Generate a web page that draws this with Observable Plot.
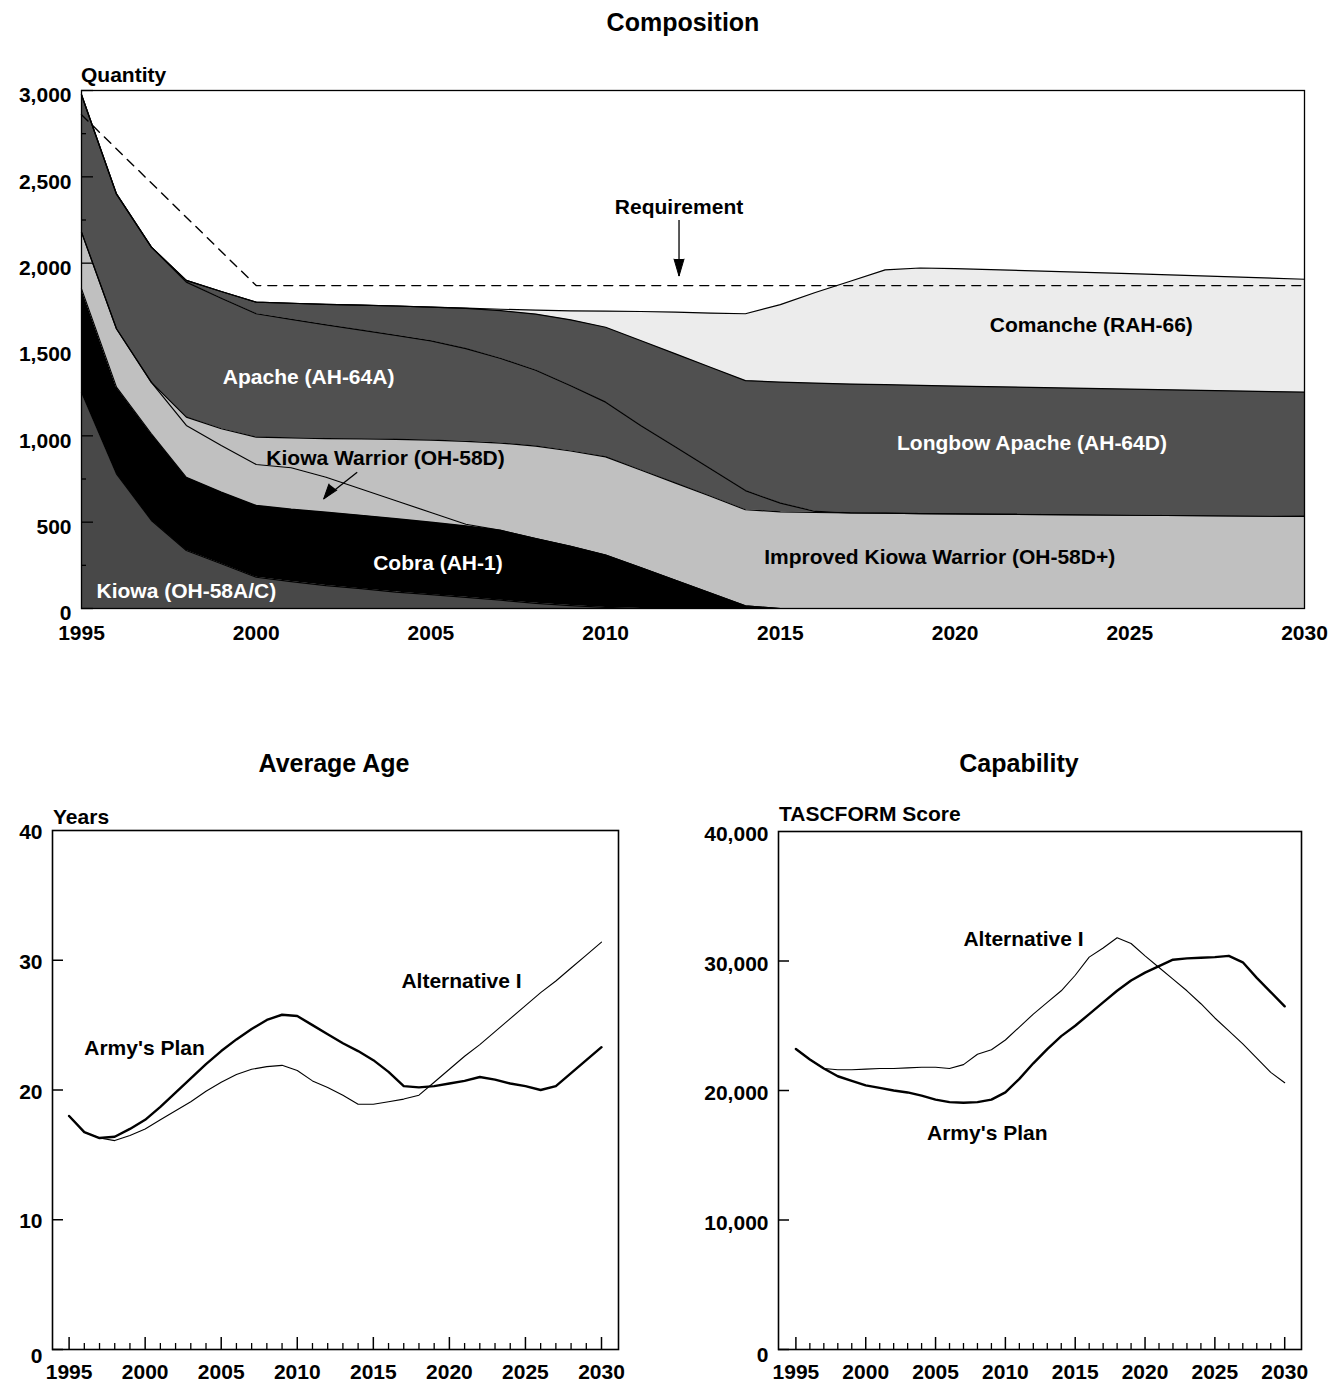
<!DOCTYPE html>
<html>
<head>
<meta charset="utf-8">
<script src="https://cdn.jsdelivr.net/npm/d3@7"></script>
<script src="https://cdn.jsdelivr.net/npm/@observablehq/plot@0.6"></script>
<style>
  body { margin: 0; background: #fff; }
  #page { position: relative; width: 1341px; height: 1385px; overflow: hidden;
          font-family: "Liberation Sans", Arial, sans-serif; font-weight: bold; color: #000; }
  .t { position: absolute; white-space: nowrap; line-height: 1; }
  .title { font-size: 25px; transform: translate(-50%, -50%); }
  .axt { font-size: 21px; transform: translateY(-50%); }
  .chart { position: absolute; }
</style>
</head>
<body>
<div id="page">
  <div class="t title" style="left:683px; top:22px;">Composition</div>
  <div class="t axt" style="left:81px; top:74px;">Quantity</div>
  <div class="t title" style="left:334px; top:763px;">Average Age</div>
  <div class="t axt" style="left:53px; top:816px;">Years</div>
  <div class="t title" style="left:1019px; top:763px;">Capability</div>
  <div class="t axt" style="left:779px; top:813px;">TASCFORM Score</div>
  <div class="chart" id="top" style="left:0; top:60px;"></div>
  <div class="chart" id="age" style="left:0; top:790px;"></div>
  <div class="chart" id="cap" style="left:680px; top:790px;"></div>
</div>
<script>
// ---------------- Composition (stacked quantities) ----------------
const years = [1995,1996,1997,1998,1999,2000,2001,2002,2003,2004,2005,2006,2007,2008,2009,2010,
               2011,2012,2013,2014,2015,2016,2017,2018,2019,2020,2025,2030];
const kiowa = [1253,780,510,336,259,181,156,133,115,95,80,65,48,30,17,6,
               0,0,0,0,0,0,0,0,0,0,0,0];
const cobra = [598,502,502,424,415,416,419,425,425,425,420,413,404,375,343,304,
               237,163,90,15,0,0,0,0,0,0,0,0];
const kiowaWarrior = [329,338,298,300,270,237,240,202,152,104,56,10,0,0,0,0,
               0,0,0,0,0,0,0,0,0,0,0,0];
const improvedKiowaWarrior = [0,0,0,48,97,158,173,224,290,355,419,480,506,535,552,568,
               565,563,560,557,560,556,554,552,550,548,540,533];
const apache = [795,781,783,782,756,715,687,659,630,603,575,537,490,440,378,317,
               258,209,160,111,50,6,0,0,0,0,0,0];
const longbowApache = [0,0,0,10,39,67,93,118,145,170,195,233,277,325,382,434,
               492,540,587,637,701,743,746,744,742,740,730,720];
const comanche = [0,0,0,0,0,0,0,0,0,0,0,2,8,23,52,93,
               168,241,314,387,449,525,595,665,680,680,670,654];

const requirementYears = [1995, 2000, 2030];
const requirement = [2860, 1870, 1870];

const seriesNames = ["Kiowa (OH-58A/C)", "Cobra (AH-1)", "Kiowa Warrior (OH-58D)",
  "Improved Kiowa Warrior (OH-58D+)", "Apache (AH-64A)", "Longbow Apache (AH-64D)", "Comanche (RAH-66)"];
const layerValues = [kiowa, cobra, kiowaWarrior, improvedKiowaWarrior, apache, longbowApache, comanche];

// label anchor points (data coordinates)
const labelYear  = [1998.0, 2005.2, 2003.7, 2019.56, 2001.5, 2022.2, 2023.9];
const labelValue = [98, 260, 869, 295, 1338, 956, 1639];

const quantityTicks = [0, 500, 1000, 1500, 2000, 2500, 3000];
const quantityMinorTicks = [250, 750, 1250, 1750, 2250, 2750];
const yearTicks = [1995, 2000, 2005, 2010, 2015, 2020, 2025, 2030];

// styles
const layerFill = {
  "Kiowa (OH-58A/C)": "#484848",
  "Cobra (AH-1)": "#000000",
  "Kiowa Warrior (OH-58D)": "#c0c0c0",
  "Improved Kiowa Warrior (OH-58D+)": "#c0c0c0",
  "Apache (AH-64A)": "#505050",
  "Longbow Apache (AH-64D)": "#505050",
  "Comanche (RAH-66)": "#ececec"
};
const labelColor = {
  "Kiowa (OH-58A/C)": "white", "Cobra (AH-1)": "white", "Kiowa Warrior (OH-58D)": "black",
  "Improved Kiowa Warrior (OH-58D+)": "black", "Apache (AH-64A)": "white",
  "Longbow Apache (AH-64D)": "white", "Comanche (RAH-66)": "black"
};

const stackRows = seriesNames.flatMap((name, k) =>
  years.map((yr, i) => ({year: yr, series: name, value: layerValues[k][i]})));
const reqRows = requirementYears.map((yr, i) => ({year: yr, value: requirement[i]}));
const labelRows = seriesNames.map((name, i) => ({x: labelYear[i], y: labelValue[i], text: name}));

// annotation arrows: [tailYear, tailValue, tipYear, tipValue]
const reqArrow = {label: "Requirement", lx: 2012.1, ly: 2322, x1: 2012.1, y1: 2250, x2: 2012.1, y2: 1925};
const kwArrow = {x1: 2002.89, y1: 789, x2: 2001.93, y2: 635};

const fontStyle = {fontFamily: '"Liberation Sans", Arial, sans-serif', fontWeight: "bold",
                   fontSize: "21px", background: "transparent", overflow: "visible"};

const topChart = Plot.plot({
  width: 1341, height: 600,
  marginTop: 30, marginBottom: 52, marginLeft: 81, marginRight: 37,
  x: {domain: [1995, 2030]},
  y: {domain: [0, 3000]},
  color: {type: "identity"},
  style: fontStyle,
  marks: [
    Plot.areaY(stackRows, {x: "year", y: "value", z: "series", order: seriesNames,
      fill: d => layerFill[d.series]}),
    Plot.lineY(stackRows, Plot.stackY2({x: "year", y: "value", z: "series", order: seriesNames,
      stroke: "black", strokeWidth: 1.2})),
    Plot.line(reqRows, {x: "year", y: "value", stroke: "black", strokeWidth: 1.4, strokeDasharray: "9,7"}),
    Plot.text(labelRows, {x: "x", y: "y", text: "text", fill: d => labelColor[d.text],
      fontSize: 21, fontWeight: "bold"}),
    Plot.text([reqArrow], {x: "lx", y: "ly", text: "label", fill: "black", fontSize: 21, fontWeight: "bold"}),
    Plot.link([reqArrow], {x1: "x1", y1: "y1", x2: "x2", y2: "y2", stroke: "black", strokeWidth: 1.3}),
    Plot.vector([reqArrow], {x: "x2", y: "y2", length: 17, rotate: 180, anchor: "end", shape: "spike",
      r: 5, fill: "black", stroke: "black", strokeWidth: 1}),
    Plot.link([kwArrow], {x1: "x1", y1: "y1", x2: "x2", y2: "y2", stroke: "black", strokeWidth: 1.3}),
    Plot.vector([kwArrow], {x: "x2", y: "y2", length: 15, rotate: 218, anchor: "end", shape: "spike",
      r: 5, fill: "black", stroke: "black", strokeWidth: 1}),
    Plot.frame({stroke: "black", strokeWidth: 1.3}),
    Plot.axisY(quantityTicks, {tickSize: 0, tickPadding: 10, dy: 5, tickFormat: d3.format(","),
      label: null, fontSize: 21, fontWeight: "bold"}),
    Plot.axisY(quantityTicks, {tickSize: -12, text: null, label: null, strokeWidth: 1.3}),
    Plot.axisY(quantityMinorTicks, {tickSize: -5, text: null, label: null, strokeWidth: 1.3}),
    Plot.axisX(yearTicks, {tickSize: 0, tickPadding: 17, tickFormat: d => String(d),
      label: null, fontSize: 21, fontWeight: "bold"})
  ]
});
document.getElementById("top").appendChild(topChart);

// ---------------- Average Age and Capability ----------------
const seriesYears = [1995,1996,1997,1998,1999,2000,2001,2002,2003,2004,2005,2006,2007,2008,2009,2010,
  2011,2012,2013,2014,2015,2016,2017,2018,2019,2020,2021,2022,2023,2024,2025,2026,2027,2028,2029,2030];
const ageArmyPlan = [18.0,16.75,16.3,16.4,17.0,17.7,18.7,19.8,20.9,22.0,23.0,23.9,24.7,25.4,25.8,25.7,
  25.0,24.3,23.6,23.0,22.3,21.4,20.3,20.2,20.3,20.5,20.7,21.0,20.8,20.5,20.3,20.0,20.3,21.3,22.3,23.3];
const ageAlternativeI = [18.0,16.75,16.3,16.1,16.5,17.0,17.7,18.4,19.1,19.9,20.6,21.2,21.6,21.8,21.9,21.5,
  20.7,20.2,19.6,18.9,18.9,19.1,19.3,19.6,20.6,21.6,22.6,23.5,24.5,25.5,26.5,27.5,28.4,29.4,30.4,31.4];
const capArmyPlan = [23200,22400,21700,21100,20750,20400,20200,20000,19850,19600,19300,19100,19050,19100,19300,19850,
  20900,22100,23200,24200,25000,25900,26800,27700,28500,29100,29600,30100,30200,30250,30300,30400,29900,28700,27600,26500];
const capAlternativeI = [23200,22400,21700,21600,21600,21650,21700,21700,21750,21800,21800,21700,22000,22800,23150,23900,
  24900,25900,26800,27700,28900,30300,31000,31800,31350,30400,29500,28600,27700,26700,25600,24600,23600,22500,21400,20600];

const ageTicks = [10, 20, 30, 40];
const ageTickMarks = [0, 10, 20, 30];
const capTicks = [10000, 20000, 30000, 40000];
const capTickMarks = [0, 10000, 20000, 30000];
const minorYearTicks = [1996,1997,1998,1999,2001,2002,2003,2004,2006,2007,2008,2009,2011,2012,2013,2014,
  2016,2017,2018,2019,2021,2022,2023,2024,2026,2027,2028,2029];

const ageLabels = [{x: 1999.96, y: 23.2, text: "Army's Plan"}, {x: 2020.8, y: 28.4, text: "Alternative I"}];
const capLabels = [{x: 2008.7, y: 16670, text: "Army's Plan"}, {x: 2011.3, y: 31700, text: "Alternative I"}];

function rowsOf(vals) { return seriesYears.map((yr, i) => ({year: yr, value: vals[i]})); }

function lineChart({army, alt, labels, ticks, tickMarks, fmt, yMax, size, insets, labelDy, zeroDy}) {
  return Plot.plot({
    width: size.width, height: 595,
    marginTop: size.top, marginBottom: 36, marginLeft: size.left, marginRight: size.right,
    x: {domain: [1995, 2030], insetLeft: insets[0], insetRight: insets[1]},
    y: {domain: [0, yMax]},
    style: fontStyle,
    marks: [
      Plot.frame({stroke: "black", strokeWidth: 1.6}),
      Plot.line(rowsOf(alt), {x: "year", y: "value", stroke: "black", strokeWidth: 1.1}),
      Plot.line(rowsOf(army), {x: "year", y: "value", stroke: "black", strokeWidth: 2.4, strokeLinejoin: "round"}),
      Plot.text(labels, {x: "x", y: "y", text: "text", fill: "black", fontSize: 21, fontWeight: "bold"}),
      Plot.axisY(ticks, {tickSize: 0, tickPadding: 10, dy: labelDy, tickFormat: fmt, label: null,
        fontSize: 21, fontWeight: "bold"}),
      Plot.axisY([0], {tickSize: 0, tickPadding: 10, dy: zeroDy, tickFormat: fmt, label: null,
        fontSize: 21, fontWeight: "bold"}),
      Plot.axisY(tickMarks, {tickSize: -11, text: null, label: null, strokeWidth: 1.5}),
      Plot.axisX(yearTicks, {tickSize: -12, text: null, label: null, strokeWidth: 1.5}),
      Plot.axisX(minorYearTicks, {tickSize: -6, text: null, label: null, strokeWidth: 1.3}),
      Plot.axisX(yearTicks, {tickSize: 0, tickPadding: 15, tickFormat: d => String(d), label: null,
        fontSize: 21, fontWeight: "bold"})
    ]
  });
}

document.getElementById("age").appendChild(lineChart({
  army: ageArmyPlan, alt: ageAlternativeI, labels: ageLabels, ticks: ageTicks, tickMarks: ageTickMarks,
  fmt: d => String(d), yMax: 40, size: {width: 660, top: 40, left: 52, right: 42},
  insets: [16.6, 17], labelDy: 2, zeroDy: 7
}));
document.getElementById("cap").appendChild(lineChart({
  army: capArmyPlan, alt: capAlternativeI, labels: capLabels, ticks: capTicks, tickMarks: capTickMarks,
  fmt: d3.format(","), yMax: 40000, size: {width: 661, top: 41, left: 98, right: 40},
  insets: [17.4, 16.8], labelDy: 3, zeroDy: 6
}));
</script>
</body>
</html>
